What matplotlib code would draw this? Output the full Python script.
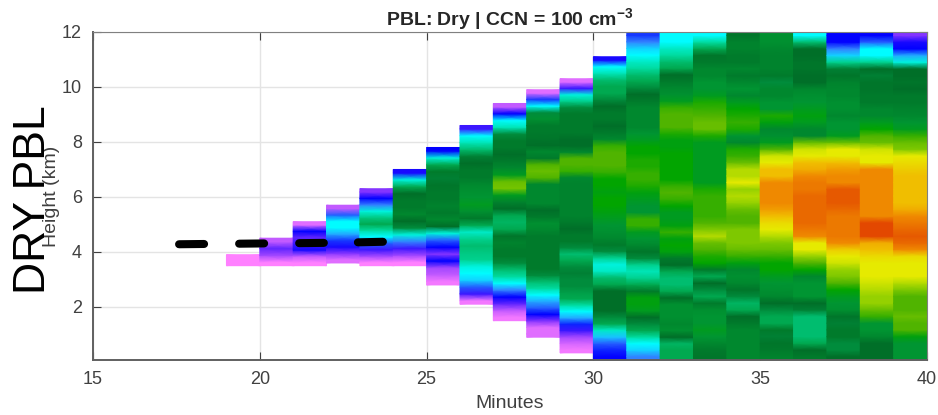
import numpy as np
import matplotlib
matplotlib.use("Agg")
import matplotlib.pyplot as plt
from matplotlib.colors import LinearSegmentedColormap

plt.rcParams['font.family'] = ['Liberation Sans', 'DejaVu Sans']
plt.rcParams['mathtext.fontset'] = 'custom'
plt.rcParams['mathtext.bf'] = 'Liberation Sans:bold'

# start minute of every column, with lowest and highest height (km)
minutes = [19, 20, 21, 22, 23, 24, 25, 26, 27, 28, 29, 30, 31, 32, 33, 34, 35, 36, 37, 38, 39]
bottoms = [3.5, 3.5, 3.5, 3.6, 3.5, 3.5, 2.8, 2.1, 1.5, 0.9, 0.33, 0.07, 0.07, 0.07, 0.07, 0.07, 0.07, 0.07, 0.07, 0.07, 0.07]
tops = [3.9, 4.5, 5.1, 5.7, 6.3, 7.0, 7.8, 8.6, 9.4, 9.9, 10.3, 11.1, 12, 12, 12, 12, 12, 12, 12, 12, 12]

# reflectivity-like values, listed bottom to top
c19 = [0, 0]
c20 = [0, 6, 10, 4]
c21 = [0, 4, 14, 12, 10, 15, 2]
c22 = [2, 8, 14, 18, 24, 28, 28, 20, 4]
c23 = [0, 6, 12, 20, 28, 33, 38, 35, 30, 22, 15, 8]
c24 = [0, 6, 12, 22, 30, 40, 42, 46, 44, 44, 42, 38, 30, 14]
c25 = [1, 4, 6, 15, 8, 15, 20, 30, 42, 46, 44, 45, 44, 44, 43, 41, 44, 38, 30, 15]
c26 = [1, 12, 20, 26, 28, 30, 34, 35, 36, 34, 31, 38, 44, 47, 50, 48, 47, 46, 44, 44, 42, 41, 36, 32, 28, 12]
c27 = [1, 4, 10, 15, 22, 28, 33, 36, 40, 44, 44, 45, 43, 38, 37, 38, 42, 45, 50, 63, 62, 50, 46, 44, 42, 44, 44, 40, 32, 28, 15, 4]
c28 = [2, 2, 8, 15, 20, 24, 28, 33, 36, 40, 44, 44, 44, 44, 44, 44, 46, 47, 44, 42, 46, 46, 46, 46, 60, 62, 60, 44, 46, 42, 43, 44, 44, 47, 40, 28, 18, 2]
c29 = [1, 3, 6, 12, 17, 24, 28, 33, 38, 39, 40, 40, 41, 40, 38, 36, 40, 44, 44, 42, 44, 45, 45, 45, 45, 45, 45, 46, 58, 60, 60, 46, 42, 42, 44, 44, 44, 44, 40, 34, 30, 12, 2]
c30 = [15, 17, 20, 25, 31, 38, 40, 42, 42, 42, 42, 38, 36, 31, 30, 34, 40, 44, 46, 47, 48, 50, 52, 54, 54, 52, 54, 54, 58, 60, 60, 60, 58, 46, 44, 42, 44, 44, 42, 40, 38, 38, 36, 32, 28, 14]
c31 = [22, 26, 28, 33, 38, 40, 42, 50, 52, 52, 44, 38, 34, 32, 34, 40, 43, 46, 48, 50, 58, 58, 48, 48, 50, 52, 56, 58, 58, 56, 56, 54, 54, 50, 48, 46, 46, 46, 46, 44, 42, 40, 38, 36, 33, 31, 28, 26, 22, 18]
c32 = [38, 38, 37, 42, 47, 46, 47, 47, 47, 42, 38, 36, 36, 38, 42, 44, 52, 54, 52, 58, 52, 50, 50, 54, 58, 60, 58, 54, 54, 54, 54, 54, 52, 52, 56, 60, 60, 60, 58, 50, 47, 46, 44, 42, 38, 36, 33, 31, 28, 28]
c33 = [43, 44, 46, 48, 50, 48, 48, 47, 44, 38, 40, 42, 38, 44, 54, 56, 60, 62, 68, 64, 60, 58, 58, 58, 58, 56, 50, 50, 50, 50, 50, 50, 50, 56, 62, 62, 60, 58, 56, 50, 48, 48, 46, 46, 44, 43, 38, 33, 28]
c34 = [46, 46, 46, 46, 46, 44, 42, 38, 37, 40, 43, 46, 47, 46, 52, 58, 62, 64, 64, 64, 60, 60, 62, 66, 68, 66, 72, 68, 68, 62, 58, 56, 46, 48, 56, 58, 56, 54, 50, 46, 48, 46, 44, 46, 44, 44, 45, 45, 43]
c35 = [45, 44, 43, 41, 44, 38, 38, 40, 42, 46, 47, 48, 50, 54, 54, 58, 62, 64, 68, 72, 74, 78, 82, 84, 84, 84, 84, 78, 78, 72, 70, 60, 50, 47, 46, 52, 56, 48, 48, 46, 46, 40, 44, 45, 45, 45, 46, 47, 47]
c36 = [44, 42, 38, 36, 36, 36, 36, 41, 42, 48, 48, 48, 46, 54, 60, 66, 72, 72, 84, 86, 88, 88, 88, 88, 88, 86, 86, 84, 80, 78, 72, 70, 62, 46, 46, 50, 52, 50, 48, 47, 46, 42, 42, 43, 43, 42, 42, 36, 28]
c37 = [42, 40, 40, 44, 44, 41, 43, 47, 48, 50, 54, 60, 64, 66, 70, 72, 76, 84, 86, 86, 86, 86, 88, 90, 90, 90, 84, 84, 82, 78, 72, 72, 62, 50, 48, 48, 46, 47, 47, 46, 46, 45, 43, 41, 34, 26, 22, 15, 15]
c38 = [42, 42, 42, 46, 48, 48, 58, 62, 66, 66, 68, 70, 72, 72, 72, 74, 78, 80, 96, 96, 96, 84, 84, 84, 84, 84, 84, 84, 84, 72, 72, 70, 62, 60, 54, 50, 46, 46, 44, 44, 43, 43, 41, 42, 34, 28, 28, 20, 15]
c39 = [48, 48, 48, 52, 60, 60, 62, 60, 60, 60, 64, 68, 72, 72, 72, 74, 84, 88, 90, 88, 86, 84, 80, 78, 78, 78, 78, 78, 76, 74, 72, 64, 62, 58, 50, 48, 46, 45, 44, 44, 42, 43, 42, 42, 30, 24, 15, 14, 8]

# the black dashed line, one list per dash
dash_x = [[17.58, 18.33], [19.38, 20.13], [21.18, 21.92], [22.94, 23.69]]
dash_y = [[4.28, 4.29], [4.30, 4.31], [4.32, 4.33], [4.35, 4.37]]

xticks = [15, 20, 25, 30, 35, 40]
yticks = [2, 4, 6, 8, 10, 12]

colors = [(0.00, "#ff80ff"), (0.08, "#8232ff"), (0.15, "#0000ff"), (0.22, "#3282ff"),
          (0.28, "#00ffff"), (0.33, "#00dca0"), (0.38, "#00aa50"), (0.42, "#006e28"),
          (0.48, "#009632"), (0.54, "#00a500"), (0.60, "#50b400"), (0.66, "#96d200"),
          (0.72, "#e6eb00"), (0.78, "#f0be00"), (0.84, "#f08c00"), (0.90, "#e65a00"),
          (1.00, "#e13c00")]
cmap = LinearSegmentedColormap.from_list("refl", colors)

columns = [c19, c20, c21, c22, c23, c24, c25, c26, c27, c28, c29, c30, c31, c32, c33, c34, c35, c36, c37, c38, c39]

fig = plt.figure(figsize=(9.38, 4.15), dpi=100)
ax = fig.add_axes([93 / 938, 55 / 415, 834 / 938, 328 / 415])

for i in range(len(columns)):
    v = np.array(columns[i], dtype=float)
    edges = np.linspace(bottoms[i], tops[i], len(v) + 1)
    # smooth up the column, but keep its ends and its sides hard
    y = np.concatenate(([edges[0]], (edges[:-1] + edges[1:]) / 2, [edges[-1]]))
    c = np.concatenate(([v[0]], v, [v[-1]]))
    ax.pcolormesh([minutes[i], minutes[i] + 1], y, np.column_stack((c, c)), cmap=cmap, vmin=0, vmax=100,
                  shading="gouraud", zorder=2)

for i in range(len(dash_x)):
    ax.plot(dash_x[i], dash_y[i], color="k", lw=5.8, solid_capstyle="round", zorder=3)

ax.set_xlim(15, 40)
ax.set_ylim(0.07, 12)
ax.set_xticks(xticks)
ax.set_yticks(yticks)
ax.grid(True, color="#e4e4e4", lw=1.0, zorder=1)
ax.set_axisbelow(True)
ax.tick_params(direction="in", length=6, width=0.8, colors="#404040", labelsize=13, top=True, right=True)
ax.tick_params(axis="x", pad=8)
ax.tick_params(axis="y", pad=8)
for s in ax.spines.values():
    s.set_color("#808080")
    s.set_linewidth(0.8)
ax.spines["left"].set_color("#606060")
ax.spines["left"].set_linewidth(1.4)
ax.spines["bottom"].set_color("#606060")
ax.spines["bottom"].set_linewidth(1.4)

fig.text(510 / 938, 1 - 20 / 415, r"PBL: Dry | CCN = 100 cm$^{\mathbf{-3}}$", ha="center", va="center",
         fontsize=14, fontweight="bold", color="#262626")
fig.text(510 / 938, 1 - 403 / 415, "Minutes", ha="center", va="center", fontsize=14, color="#404040")
fig.text(52 / 938, 1 - 196 / 415, "Height (km)", rotation=90, ha="center", va="center", fontsize=14, color="#404040")
fig.text(34 / 938, 1 - 200 / 415, "DRY PBL", rotation=90, ha="center", va="center", fontsize=32, color="k")

fig.savefig("out.png", dpi=100)
